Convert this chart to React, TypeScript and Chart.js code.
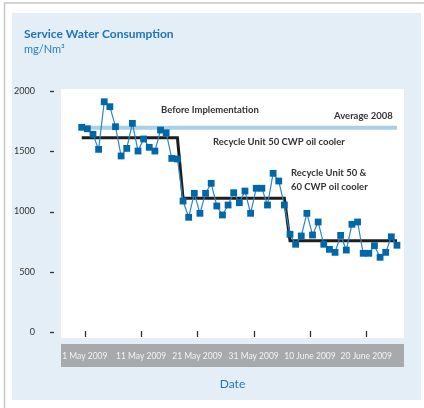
import React, { useEffect, useRef } from "react";
import { Chart, registerables } from "chart.js";

Chart.register(...registerables);

// Daily service water consumption (mg/Nm3), one value per day starting ~1 May 2009
const WATER_USE = [
  1699, 1687, 1641, 1516, 1911, 1870, 1704, 1461, 1524, 1732,
  1502, 1602, 1533, 1502, 1676, 1654, 1441, 1436, 1087, 952,
  1151, 985, 1151, 1234, 1046, 971, 1054, 1156, 1073, 1170,
  985, 1193, 1193, 1054, 1317, 1253, 1054, 811, 728, 797,
  985, 805, 913, 728, 686, 661, 802, 680, 894, 913,
  653, 653, 716, 620, 661, 790, 720,
];

// Step line of period averages
const STEP_DAYS = [0, 17, 18, 36, 37, 56];
const STEP_VALUES = [1612, 1612, 1110, 1110, 758, 758];

// Average 2008 reference line
const AVG_DAYS = [0, 56];
const AVERAGE_2008 = 1695;

// Axis ticks
const TICK_DAYS = [0.55, 10.55, 20.55, 30.55, 40.55, 50.55];
const TICK_LABELS = ["1 May 2009", "11 May 2009", "21 May 2009", "31 May 2009", "10 June 2009", "20 June 2009"];
const Y_TICKS = [0, 500, 1000, 1500, 2000];

const FONT = 'Lato, "Open Sans", sans-serif';
const W = 424;
const H = 408;

const decor = {
  id: "decor",
  beforeDraw(chart: any) {
    const { ctx, chartArea: a } = chart;
    ctx.save();
    ctx.fillStyle = "#ffffff";
    ctx.fillRect(0, 0, W, H);
    // outer frame
    ctx.strokeStyle = "#c6c6c6";
    ctx.lineWidth = 1.5;
    ctx.beginPath();
    ctx.moveTo(4.5, H);
    ctx.lineTo(4.5, 3);
    ctx.lineTo(W, 3);
    ctx.stroke();
    // panel
    ctx.fillStyle = "#e3eef6";
    ctx.fillRect(12, 13, 409, 387);
    // plot background
    ctx.fillStyle = "#ffffff";
    ctx.fillRect(a.left, a.top, a.right - a.left, a.bottom - a.top);
    // x label band
    ctx.fillStyle = "#a7a9ac";
    ctx.fillRect(a.left, a.bottom + 6, a.right - a.left, 23);
    // titles
    ctx.textBaseline = "alphabetic";
    ctx.textAlign = "left";
    ctx.fillStyle = "#1f74b8";
    ctx.font = `bold 12px ${FONT}`;
    ctx.fillText("Service Water Consumption", 24, 38);
    ctx.fillStyle = "#2a7dc0";
    ctx.font = `11px ${FONT}`;
    ctx.fillText("mg/Nm³", 24, 53);
    // axis title
    ctx.textAlign = "center";
    ctx.textBaseline = "middle";
    ctx.font = `12px ${FONT}`;
    ctx.fillStyle = "#1f74b8";
    ctx.fillText("Date", (a.left + a.right) / 2, 384);
    ctx.restore();
  },
  afterDraw(chart: any) {
    const { ctx, chartArea: a, scales } = chart;
    const xs = scales.x;
    const ys = scales.y;
    ctx.save();
    ctx.strokeStyle = "#333333";
    ctx.lineWidth = 1.3;
    // x tick marks inside the plot
    TICK_DAYS.forEach((d) => {
      const x = Math.round(xs.getPixelForValue(d)) + 0.5;
      ctx.beginPath();
      ctx.moveTo(x, a.bottom - 7);
      ctx.lineTo(x, a.bottom - 1);
      ctx.stroke();
    });
    // y dashes
    Y_TICKS.forEach((v) => {
      const y = Math.round(ys.getPixelForValue(v)) + 0.5;
      ctx.beginPath();
      ctx.moveTo(a.left - 11, y);
      ctx.lineTo(a.left - 7, y);
      ctx.stroke();
    });
    // annotations
    ctx.fillStyle = "#333333";
    ctx.font = `bold 9.5px ${FONT}`;
    ctx.textAlign = "left";
    ctx.textBaseline = "middle";
    const avgY = ys.getPixelForValue(AVERAGE_2008);
    ctx.fillText("Before Implementation", 161, avgY - 18);
    ctx.fillText("Average 2008", 334, avgY - 12);
    ctx.fillText("Recycle Unit 50 CWP oil cooler", 213, 142);
    ctx.fillText("Recycle Unit 50 &", 291, 173);
    ctx.fillText("60 CWP oil cooler", 291, 187);
    ctx.restore();
  },
};

export default function App() {
  const ref = useRef<HTMLCanvasElement | null>(null);

  useEffect(() => {
    document.body.style.margin = "0";
    const canvas = ref.current;
    if (!canvas) return;
    const chart = new Chart(canvas, {
      type: "line",
      data: {
        datasets: [
          {
            label: "Service water",
            data: WATER_USE.map((v, i) => ({ x: i, y: v })),
            borderColor: "#2d86c8",
            borderWidth: 1.2,
            pointStyle: "rect",
            pointRadius: 4.8,
            pointBackgroundColor: "#0067aa",
            pointBorderWidth: 0,
            tension: 0,
          },
          {
            label: "Period average",
            data: STEP_DAYS.map((d, i) => ({ x: d, y: STEP_VALUES[i] })),
            borderColor: "#1e1e1e",
            borderWidth: 3,
            pointRadius: 0,
            tension: 0,
          },
          {
            label: "Average 2008",
            data: AVG_DAYS.map((d) => ({ x: d, y: AVERAGE_2008 })),
            borderColor: "#a9cfe9",
            borderWidth: 4,
            pointRadius: 0,
          },
        ],
      },
      options: {
        animation: false,
        responsive: false,
        devicePixelRatio: 1,
        layout: { padding: { left: 12, right: 20, top: 89, bottom: 0 } },
        plugins: { legend: { display: false }, tooltip: { enabled: false }, title: { display: false } },
        scales: {
          x: {
            type: "linear",
            min: -3.68,
            max: 57.25,
            grid: { display: false },
            border: { display: false },
            afterBuildTicks: (s: any) => {
              s.ticks = TICK_DAYS.map((v) => ({ value: v }));
            },
            afterFit: (s: any) => {
              s.height = 70;
            },
            ticks: {
              autoSkip: false,
              maxRotation: 0,
              padding: 5,
              color: "#f4f4f4",
              font: { family: FONT, size: 8.5 },
              callback: (_v: any, i: number) => TICK_LABELS[i],
            },
          },
          y: {
            min: -50,
            max: 2017,
            grid: { display: false },
            border: { display: false },
            afterBuildTicks: (s: any) => {
              s.ticks = Y_TICKS.map((v) => ({ value: v }));
            },
            afterFit: (s: any) => {
              s.width = 49;
            },
            ticks: {
              padding: 18,
              color: "#333333",
              font: { family: FONT, size: 9 },
              callback: (v: any) => String(v),
            },
          },
        },
      },
      plugins: [decor],
    });
    return () => chart.destroy();
  }, []);

  return (
    <div style={{ position: "absolute", left: 0, top: 0, width: W, height: H }}>
      <canvas ref={ref} width={W} height={H} style={{ display: "block", width: W, height: H }} />
    </div>
  );
}
